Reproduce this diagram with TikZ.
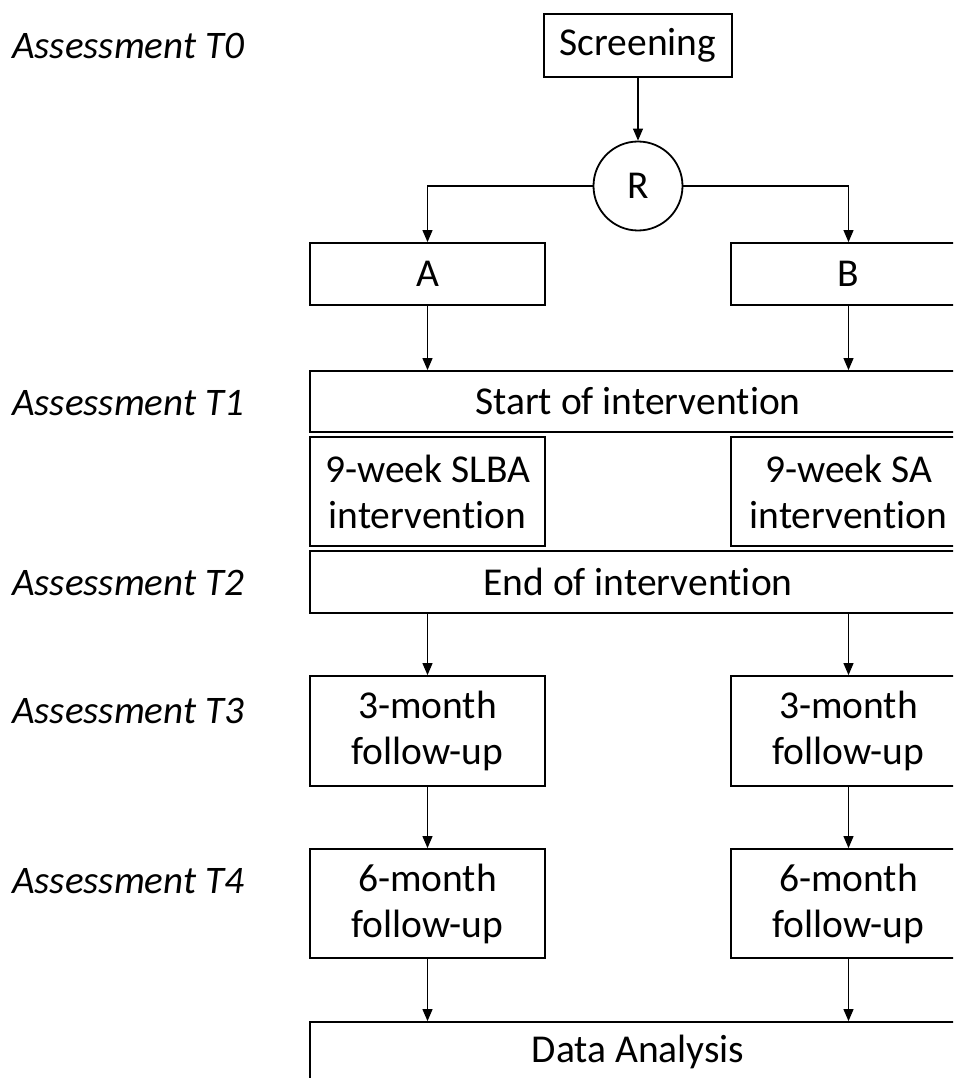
\documentclass[tikz,border=0pt]{standalone}
\usepackage{fontspec}
\setmainfont{Carlito}[Ligatures=CommonOff,RawFeature={-calt;-dlig;-clig}]
\usetikzlibrary{arrows.meta}
\newcommand{\intv}{interven\kern0pt t\kern0pt ion}
\begin{document}
\begin{tikzpicture}[x=1pt,y=-1pt,
  box/.style={draw=black,line width=1.8pt,inner sep=0pt,align=center,font=\fontsize{39.5}{46}\selectfont},
  lbl/.style={anchor=west,inner sep=0pt,font=\fontsize{39}{46}\selectfont\itshape},
  arr/.style={line width=1.1pt,-{Triangle[length=12pt,width=10pt]}}]
\clip (0,0) rectangle (953,1078);
\fill[white] (0,0) rectangle (953,1078);
% nodes
\node[box,minimum width=188pt,minimum height=63pt] (scr) at (638,45.5) {Screening};
\node[draw=black,line width=1.8pt,circle,minimum size=89pt,inner sep=0pt,font=\fontsize{39.5}{46}\selectfont] (R) at (638,186) {R};
\node[box,minimum width=235pt,minimum height=62pt] (A) at (427.5,274) {A};
\node[box,minimum width=235pt,minimum height=62pt] (B) at (848.5,274) {B};
\node[box,minimum width=656pt,minimum height=61pt] (start) at (638,401.5) {Start of \intv};
\node[box,minimum width=235pt,minimum height=109pt] (slba) at (427.5,491.5) {9-week SLBA\\\intv};
\node[box,minimum width=235pt,minimum height=109pt] (sa) at (848.5,491.5) {9-week SA\\\intv};
\node[box,minimum width=656pt,minimum height=62pt] (end) at (638,582) {End of \intv};
\node[box,minimum width=235pt,minimum height=110pt] (a3) at (427.5,731) {3-month\\follow-up};
\node[box,minimum width=235pt,minimum height=110pt] (b3) at (848.5,731) {3-month\\follow-up};
\node[box,minimum width=235pt,minimum height=109pt] (a6) at (427.5,903.5) {6-month\\follow-up};
\node[box,minimum width=235pt,minimum height=109pt] (b6) at (848.5,903.5) {6-month\\follow-up};
\node[draw=black,line width=1.8pt,minimum width=656pt,minimum height=90pt,inner sep=0pt] (data) at (638,1067) {};
\node[inner sep=0pt,font=\fontsize{39.5}{46}\selectfont] (datat) at (638,1052) {Data Analysis};
% labels
\node[lbl] (t0) at (12,46) {Assessment T0};
\node[lbl] (t1) at (12,403) {Assessment T1};
\node[lbl] (t2) at (12,583) {Assessment T2};
\node[lbl] (t3) at (12,711) {Assessment T3};
\node[lbl] (t4) at (12,881) {Assessment T4};
% connectors
\draw[arr] (scr.south) -- (R.north);
\draw[arr] (R.west) -| (A.north);
\draw[arr] (R.east) -| (B.north);
\draw[arr] (A.south) -- (A.south |- start.north);
\draw[arr] (B.south) -- (B.south |- start.north);
\draw[arr] (a3.north |- end.south) -- (a3.north);
\draw[arr] (b3.north |- end.south) -- (b3.north);
\draw[arr] (a3.south) -- (a6.north);
\draw[arr] (b3.south) -- (b6.north);
\draw[arr] (a6.south) -- (a6.south |- data.north);
\draw[arr] (b6.south) -- (b6.south |- data.north);
\end{tikzpicture}
\end{document}
